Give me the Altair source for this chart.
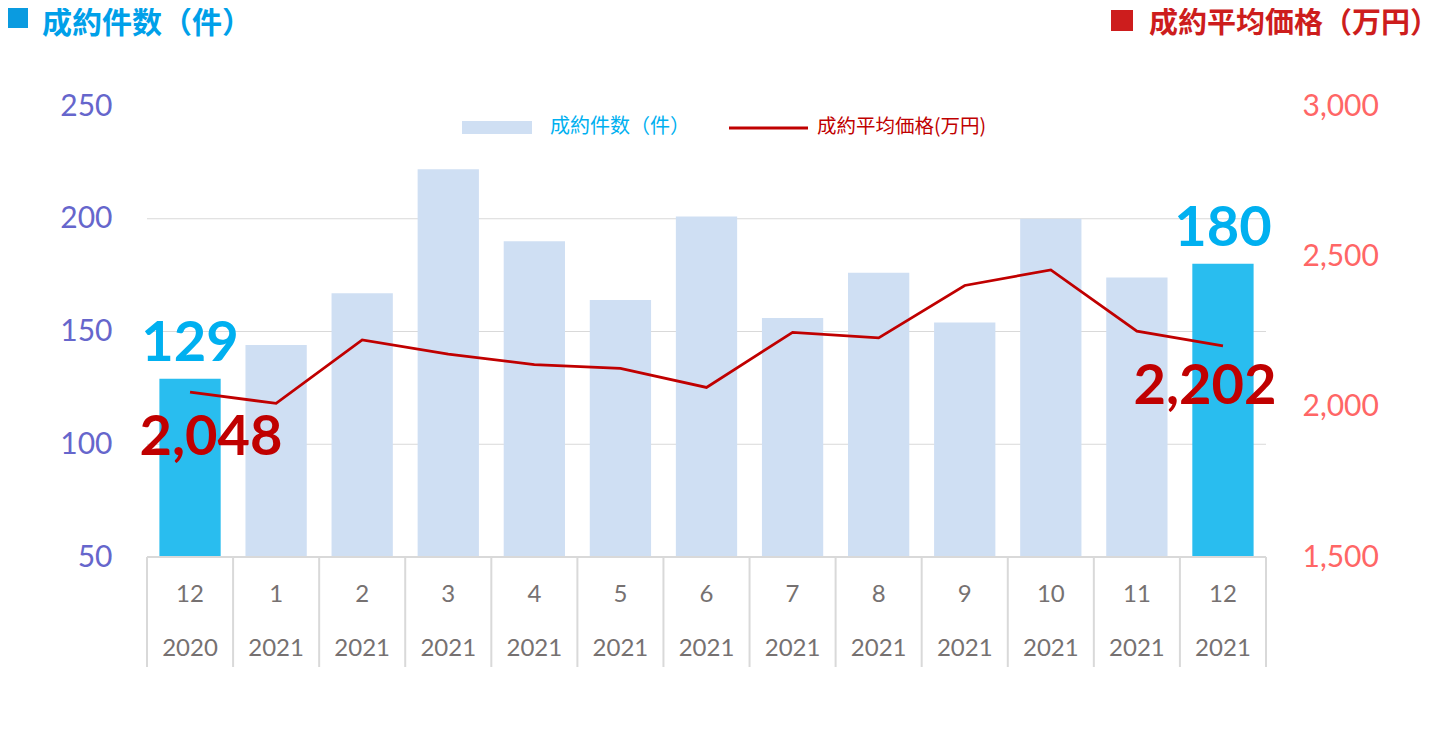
import altair as alt
import pandas as pd

# ---- data ----
months = ["12", "1", "2", "3", "4", "5", "6", "7", "8", "9", "10", "11", "12"]
years = ["2020"] + ["2021"] * 12
counts = [129, 144, 167, 222, 190, 164, 201, 156, 176, 154, 200, 174, 180]
prices = [2048, 2011, 2222, 2175, 2140, 2127, 2064, 2247, 2229, 2403, 2455, 2251, 2202]
highlight = [True] + [False] * 11 + [True]
left_ticks = [50, 100, 150, 200, 250]
right_ticks = [1500, 2000, 2500, 3000]
grid_vals = [100, 150, 200]

title_left = "成約件数（件）"
title_right = "成約平均価格（万円）"
legend_bar = "成約件数（件）"
legend_line = "成約平均価格(万円)"

keys = [f"{y}-{m}" for y, m in zip(years, months)]
df = pd.DataFrame({"key": keys, "month": months, "year": years,
                   "count": counts, "price": prices, "hl": highlight})

NUM_FONT = "Lato"
CJK_FONT = "Noto Sans CJK SC"
W, H = 1119, 451
PAD_IN = 0.288
STEP = W / len(keys)
EDGE_PX = STEP * PAD_IN / 2  # gap from bar edge to category boundary

xscale = alt.Scale(domain=keys, paddingInner=PAD_IN, paddingOuter=PAD_IN / 2)
yL = alt.Scale(domain=[50, 250], nice=False, zero=False)
yR = alt.Scale(domain=[1500, 3000], nice=False, zero=False)

y_axis_left = alt.Axis(
    values=left_ticks, title=None, labelFont=NUM_FONT, labelFontSize=30,
    labelColor="#6666cc", labelPadding=35, ticks=False, domain=False, grid=False,
)
y_axis_right = alt.Axis(
    orient="right", values=right_ticks, format=",d", title=None,
    labelFont=NUM_FONT, labelFontSize=30, labelColor="#ff6666",
    labelPadding=36, ticks=False, domain=False, grid=False,
)

base = alt.Chart(df)
X = alt.X("key:N", scale=xscale, axis=None)

grid = alt.Chart(pd.DataFrame({"v": grid_vals})).mark_rule(
    color="#d9d9d9", strokeWidth=1
).encode(y=alt.Y("v:Q", scale=yL, axis=y_axis_left))

bars = base.mark_bar().encode(
    x=X,
    y=alt.Y("count:Q", scale=yL, axis=y_axis_left),
    y2=alt.datum(50),
    color=alt.condition("datum.hl", alt.value("#29bdef"), alt.value("#cfdff3")),
)

# category axis drawn from the same band scale
axis_line = alt.Chart(pd.DataFrame({"v": [50]})).mark_rule(
    color="#d9d9d9", strokeWidth=2
).encode(y=alt.Y("v:Q", scale=yL, axis=y_axis_left))
seps = base.mark_rule(color="#d9d9d9", strokeWidth=2, xOffset=-EDGE_PX).encode(
    x=alt.X("key:N", scale=xscale, axis=None, bandPosition=0),
    y=alt.value(H), y2=alt.value(H + 110),
)
sep_end = base.transform_filter(f"datum.key == '{keys[-1]}'").mark_rule(
    color="#d9d9d9", strokeWidth=2, xOffset=EDGE_PX
).encode(
    x=alt.X("key:N", scale=xscale, axis=None, bandPosition=1),
    y=alt.value(H), y2=alt.value(H + 110),
)
month_lab = base.mark_text(
    font=NUM_FONT, fontSize=24, color="#767171", baseline="middle", align="center"
).encode(x=X, y=alt.value(H + 38), text="month:N")
year_lab = base.mark_text(
    font=NUM_FONT, fontSize=24, color="#767171", baseline="middle", align="center"
).encode(x=X, y=alt.value(H + 92), text="year:N")

bar_labels = base.transform_filter("datum.hl").mark_text(
    font=NUM_FONT, fontWeight="bold", fontSize=56, color="#00b0f0",
    dy=-35, baseline="middle", align="center",
).encode(
    x=X,
    y=alt.Y("count:Q", scale=yL, axis=y_axis_left),
    text=alt.Text("count:Q"),
)

left_group = alt.layer(grid, bars, axis_line, seps, sep_end, month_lab, year_lab, bar_labels)

line = base.mark_line(color="#c00000", strokeWidth=2.75).encode(
    x=X,
    y=alt.Y("price:Q", scale=yR, axis=y_axis_right),
)
lab_first = base.transform_filter(f"datum.key == '{keys[0]}'").mark_text(
    font=NUM_FONT, fontWeight="bold", fontSize=56, color="#c00000",
    dx=21, dy=46, baseline="middle", align="center",
).encode(
    x=X,
    y=alt.Y("price:Q", scale=yR, axis=y_axis_right),
    text=alt.Text("price:Q", format=","),
)
lab_last = base.transform_filter(f"datum.key == '{keys[-1]}'").mark_text(
    font=NUM_FONT, fontWeight="bold", fontSize=56, color="#c00000",
    dx=-18, dy=41, baseline="middle", align="center",
).encode(
    x=X,
    y=alt.Y("price:Q", scale=yR, axis=y_axis_right),
    text=alt.Text("price:Q", format=","),
)
right_group = alt.layer(line, lab_first, lab_last)

# ---- titles and legend (decoration) ----
one = pd.DataFrame({"a": [0]})
sq_left = alt.Chart(one).mark_rect(color="#0a9be0").encode(
    x=alt.value(-139), x2=alt.value(-119), y=alt.value(-99), y2=alt.value(-78))
txt_left = alt.Chart(pd.DataFrame({"t": [title_left]})).mark_text(
    font=CJK_FONT, fontWeight="bold", fontSize=30, color="#00a0e9",
    align="left", baseline="middle",
).encode(x=alt.value(-105), y=alt.value(-82), text="t:N")

sq_right = alt.Chart(one).mark_rect(color="#cd1d1d").encode(
    x=alt.value(964), x2=alt.value(986), y=alt.value(-96), y2=alt.value(-75))
txt_right = alt.Chart(pd.DataFrame({"t": [title_right]})).mark_text(
    font=CJK_FONT, fontWeight="bold", fontSize=29, color="#cd1d1d",
    align="left", baseline="middle",
).encode(x=alt.value(1002), y=alt.value(-82), text="t:N")

leg_rect = alt.Chart(one).mark_rect(color="#cfdff3").encode(
    x=alt.value(315), x2=alt.value(385), y=alt.value(15), y2=alt.value(28))
leg_txt1 = alt.Chart(pd.DataFrame({"t": [legend_bar]})).mark_text(
    font=CJK_FONT, fontSize=20, color="#00b0f0", align="left", baseline="middle",
).encode(x=alt.value(403), y=alt.value(21), text="t:N")
leg_rule = alt.Chart(one).mark_rule(color="#c00000", strokeWidth=3).encode(
    x=alt.value(582), x2=alt.value(661), y=alt.value(22))
leg_txt2 = alt.Chart(pd.DataFrame({"t": [legend_line]})).mark_text(
    font=CJK_FONT, fontSize=19.5, color="#c00000", align="left", baseline="middle",
).encode(x=alt.value(670), y=alt.value(21), text="t:N")

chart = alt.layer(
    left_group, right_group,
    sq_left, txt_left, sq_right, txt_right,
    leg_rect, leg_txt1, leg_rule, leg_txt2,
).resolve_scale(y="independent").properties(
    width=W, height=H,
    autosize=alt.AutoSizeParams(type="none"),
    padding={"left": 139, "top": 98, "right": 164, "bottom": 150},
).configure_view(stroke=None)

chart.save("out.html", embed_options={"renderer": "svg", "actions": False})
